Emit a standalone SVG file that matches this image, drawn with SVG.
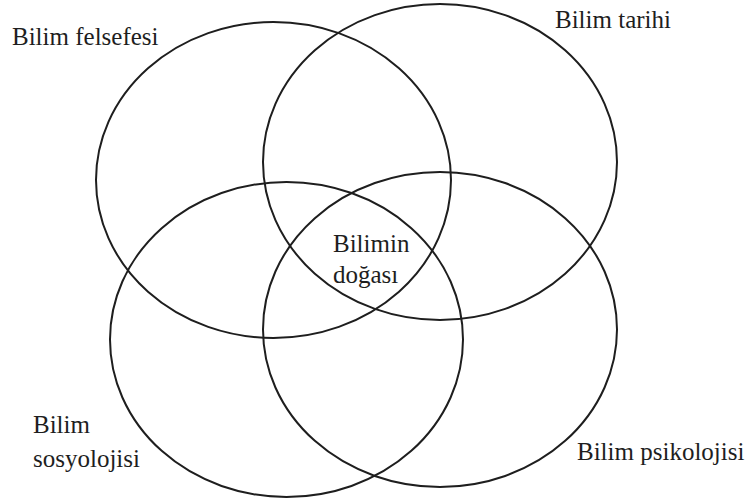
<svg xmlns="http://www.w3.org/2000/svg" width="750" height="501" viewBox="0 0 750 501">
<style>
.c{fill:none;stroke:#1e1e1e;stroke-width:2}
.t{font-family:"Liberation Serif","Times New Roman",serif;font-size:25px;fill:#1e1e1e}
</style>
<rect width="750" height="501" fill="#fff"/>
<g id="connectors"></g>
<g id="felsefe"><ellipse class="c" cx="273.5" cy="180" rx="177.5" ry="158"/><text class="t" x="12" y="45">Bilim felsefesi</text></g>
<g id="tarih"><ellipse class="c" cx="440" cy="162" rx="177" ry="158"/><text class="t" x="555" y="28">Bilim tarihi</text></g>
<g id="sosyoloji"><ellipse class="c" cx="286.5" cy="339.5" rx="176.5" ry="157.5"/><text class="t" x="33" y="433">Bilim</text><text class="t" x="33" y="467">sosyolojisi</text></g>
<g id="psikoloji"><ellipse class="c" cx="440" cy="329.5" rx="177" ry="157.5"/><text class="t" x="577" y="460">Bilim psikolojisi</text></g>
<g id="doga"><text class="t" x="333" y="252">Bilimin</text><text class="t" x="333" y="283">doğası</text></g>
</svg>
